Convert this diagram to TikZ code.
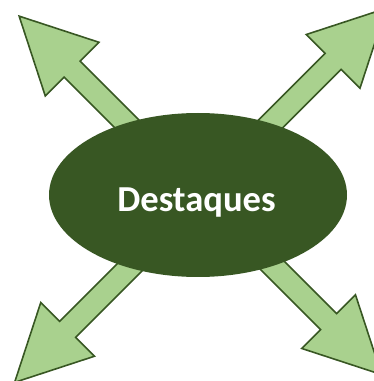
\documentclass[tikz,border=0pt]{standalone}
\usepackage{fontspec}
\setmainfont{Carlito}
\definecolor{darkgreen}{HTML}{385723}
\definecolor{lightgreen}{HTML}{A9D18E}
\tikzset{
  arrowbody/.style={draw=darkgreen, fill=lightgreen, line width=1.6pt, line join=miter},
  bigarrow/.pic={
    \draw[arrowbody] (0,-11.3) -- (#1,-11.3) -- (#1,-38) -- (#1+75,0) -- (#1,38) -- (#1,11.3) -- (0,11.3) -- cycle;
  },
  hubstyle/.style={ellipse, fill=darkgreen, text=white, minimum width=298pt, minimum height=164pt, inner sep=0pt}
}
\usetikzlibrary{shapes.geometric}
\begin{document}
\begin{tikzpicture}[x=1pt,y=1pt]
\useasboundingbox (0,0) rectangle (374,381);
\clip (0,0) rectangle (374,381);
\coordinate (ctop) at (198.75,185.25);
\coordinate (cbot) at (202,186);
\pic[shift={(ctop)}, rotate=135] {bigarrow=179};
\pic[shift={(ctop)}, rotate=45] {bigarrow=190};
\pic[shift={(cbot)}, rotate=225] {bigarrow=190};
\pic[shift={(cbot)}, rotate=315] {bigarrow=179};
\node[hubstyle] (hub) at (198,186) {};
\node[text=white, font=\bfseries\fontsize{36.6}{40}\selectfont, anchor=base, inner sep=0pt] (label) at (196.5,169) {Destaques};
\end{tikzpicture}
\end{document}
